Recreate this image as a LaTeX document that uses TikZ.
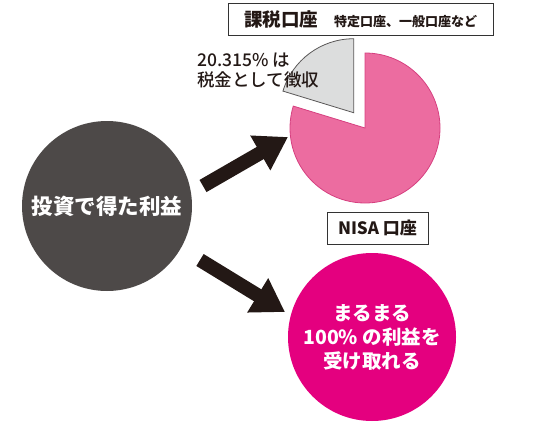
\documentclass[tikz,border=0pt]{standalone}
\usepackage{fontspec}
\setmainfont{Noto Sans CJK JP}
\newfontfamily\jpmed{Noto Sans CJK JP Medium}
\usetikzlibrary{arrows.meta}
\definecolor{incomegray}{RGB}{77,73,72}
\definecolor{taxpink}{RGB}{236,108,160}
\definecolor{taxline}{RGB}{214,64,128}
\definecolor{taxgray}{RGB}{220,221,221}
\definecolor{wedgeline}{RGB}{89,87,87}
\definecolor{nisapink}{RGB}{228,0,127}
\definecolor{arrowblack}{RGB}{35,24,21}
\begin{document}
\begin{tikzpicture}[x=1pt,y=1pt,
 circ/.style={circle,inner sep=0pt,text=white,align=center,font=\bfseries\fontsize{21.5}{24}\selectfont},
 labelbox/.style={draw=black!80,line width=0.8pt,minimum height=32pt,inner sep=0pt,text=arrowblack},
 bigarrow/.style={draw=arrowblack,line width=14pt,-{Triangle[length=32pt,width=38pt]}}]
\useasboundingbox (0,0) rectangle (540,432);
\node[circ,fill=incomegray,minimum size=170pt] (income) at (107,226) {投資で得た利益};
\coordinate (pie) at (365,304);
\fill[taxpink,draw=taxline,line width=0.8pt] (pie) -- ++(90:75) arc[start angle=90,end angle=-197,radius=75] -- cycle;
\fill[taxgray,draw=wedgeline,line width=0.8pt] ([shift={(126.5:19)}]pie) -- ++(90:74) arc[start angle=90,end angle=163,radius=74] -- cycle;
\node[anchor=west,align=left,inner sep=0pt,text=arrowblack,font=\jpmed\fontsize{17.5}{20}\selectfont] (taxnote) at (197,362) {20.315\% は\\税金として徴収};
\node[labelbox,minimum width=265pt] (taxbox) at (360.5,413) {{\bfseries\fontsize{18.5}{20}\selectfont 課税口座}\hspace{16pt}{\bfseries\fontsize{13}{15}\selectfont 特定口座、一般口座など}};
\node[labelbox,minimum width=101pt,font=\bfseries\fontsize{17}{20}\selectfont] (nisabox) at (377.5,204) {NISA 口座};
\node[circ,fill=nisapink,minimum size=168pt,font=\bfseries\fontsize{19.5}{24}\selectfont] (nisa) at (372,95) {まるまる\\100\% の利益を\\受け取れる};
\coordinate (uptail) at (203,246);
\coordinate (uptip) at (288,295);
\coordinate (downtail) at (200,172);
\coordinate (downtip) at (285,120);
\draw[bigarrow] (uptail) -- (uptip);
\draw[bigarrow] (downtail) -- (downtip);
\end{tikzpicture}
\end{document}
